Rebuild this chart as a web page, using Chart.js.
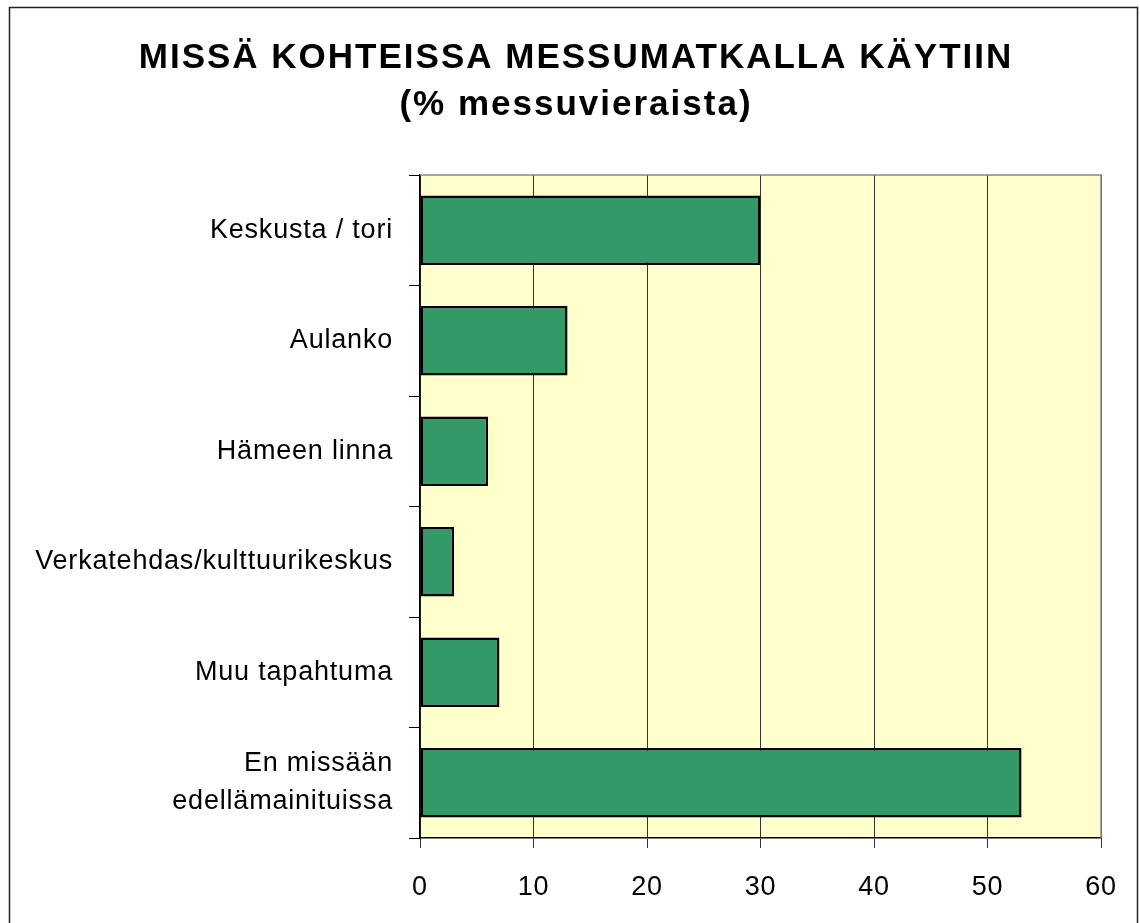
<!DOCTYPE html>
<html lang="fi">
<head>
  <meta charset="UTF-8">
  <title>Missä kohteissa messumatkalla käytiin</title>
  <script src="https://cdn.jsdelivr.net/npm/chart.js"></script>
  <style>
    body { margin: 0; background: #fff; }
    canvas { display: block; }
  </style>
</head>
<body>
  <canvas id="chart" width="1140" height="923"></canvas>
  <script>
    // Data
    const categories = [
      'Keskusta / tori',
      'Aulanko',
      'Hämeen linna',
      'Verkatehdas/kulttuurikeskus',
      'Muu tapahtuma',
      ['En missään', 'edellämainituissa']
    ];
    const percentages = [30, 13, 6, 3, 7, 53];
    const titleLines = ['MISSÄ KOHTEISSA MESSUMATKALLA KÄYTIIN', '(% messuvieraista)'];

    const FONT = 'Liberation Sans, Arial, sans-serif';

    // Page background, outer frame, plot fill and the spaced-out title
    const framePlugin = {
      id: 'frame',
      beforeDraw(chart) {
        const { ctx, chartArea: a } = chart;
        ctx.save();
        ctx.fillStyle = '#fff';
        ctx.fillRect(0, 0, chart.width, chart.height);
        ctx.strokeStyle = '#222';
        ctx.lineWidth = 1.5;
        ctx.strokeRect(9.5, 7.5, 1128, 1000);
        ctx.fillStyle = '#FFFFCC';
        ctx.fillRect(a.left, a.top, a.right - a.left, a.bottom - a.top);

        ctx.fillStyle = '#000';
        ctx.font = 'bold 35px ' + FONT;
        ctx.letterSpacing = '2px';
        ctx.textAlign = 'center';
        ctx.textBaseline = 'middle';
        ctx.fillText(titleLines[0], 576, 58);
        ctx.fillText(titleLines[1], 576, 105);
        ctx.restore();
        // slightly wider letter spacing for the axis labels, like the original
        ctx.letterSpacing = '0.8px';
      },
      afterDatasetsDraw(chart) {
        const { ctx, chartArea: a } = chart;
        ctx.save();
        ctx.strokeStyle = '#888';
        ctx.lineWidth = 1.5;
        ctx.beginPath();
        ctx.moveTo(a.left, a.top);
        ctx.lineTo(a.right, a.top);
        ctx.lineTo(a.right, a.bottom);
        ctx.stroke();
        ctx.restore();
      }
    };

    new Chart(document.getElementById('chart'), {
      type: 'bar',
      data: {
        labels: categories,
        datasets: [{
          data: percentages,
          backgroundColor: '#339966',
          borderColor: '#000',
          borderWidth: 2.5,
          borderSkipped: false,
          categoryPercentage: 1,
          barPercentage: 0.63
        }]
      },
      options: {
        indexAxis: 'y',
        responsive: false,
        animation: false,
        layout: { padding: { left: 0, right: 39, top: 175, bottom: 0 } },
        plugins: {
          legend: { display: false },
          tooltip: { enabled: false },
          title: { display: false }
        },
        scales: {
          x: {
            min: 0,
            max: 60,
            ticks: {
              stepSize: 10,
              color: '#000',
              padding: 23,
              font: { family: FONT, size: 27 }
            },
            grid: {
              color: '#333',
              lineWidth: 1,
              tickLength: 10,
              drawOnChartArea: true
            },
            border: { color: '#000', width: 1.5 },
            afterFit(scale) { scale.height = 85; }
          },
          y: {
            ticks: {
              color: '#000',
              padding: 16,
              font: { family: FONT, size: 27, lineHeight: 1.4 }
            },
            grid: {
              color: '#000',
              drawOnChartArea: false,
              tickLength: 11
            },
            border: { color: '#000', width: 1.5 },
            afterFit(scale) { scale.width = 420; }
          }
        }
      },
      plugins: [framePlugin]
    });
  </script>
</body>
</html>
